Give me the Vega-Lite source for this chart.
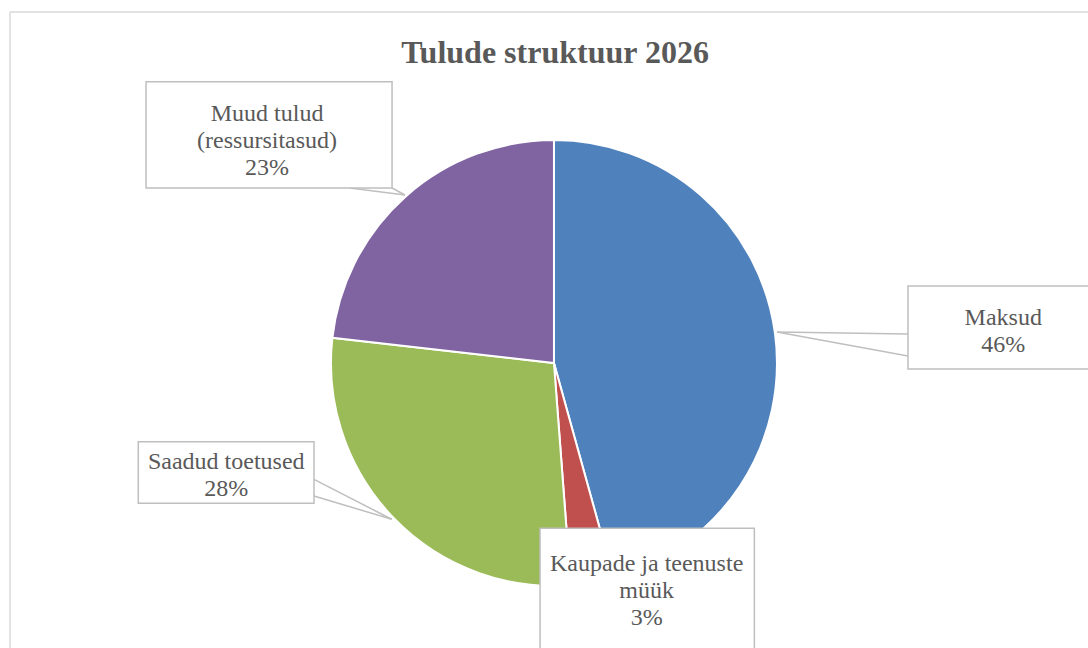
{
  "$schema": "https://vega.github.io/schema/vega-lite/v6.json",
  "width": 1078,
  "height": 636,
  "autosize": "none",
  "padding": {"left": 10, "top": 12, "right": 0, "bottom": 0},
  "background": "#FFFFFF",
  "data": {
    "values": [
      {"i": 1, "category": "Maksud", "share": 45.7, "label": "Maksud\n46%"},
      {"i": 2, "category": "Kaupade ja teenuste müük", "share": 3.1, "label": "Kaupade ja teenuste\nmüük\n3%"},
      {"i": 3, "category": "Saadud toetused", "share": 28.0, "label": "Saadud toetused\n28%"},
      {"i": 4, "category": "Muud tulud (ressursitasud)", "share": 23.2, "label": "Muud tulud\n(ressursitasud)\n23%"}
    ]
  },
  "layer": [
    {
      "data": {"values": [{}]},
      "mark": {"type": "rule", "color": "#D9D9D9", "strokeWidth": 1.5},
      "encoding": {
        "x": {"datum": 0, "type": "quantitative", "scale": {"domain": [0, 100], "nice": false, "zero": false}},
        "x2": {"datum": 100},
        "y": {"datum": 0, "type": "quantitative", "scale": {"domain": [0, 100], "nice": false, "zero": false, "reverse": true}}
      }
    },
    {
      "data": {"values": [{}]},
      "mark": {"type": "rule", "color": "#D9D9D9", "strokeWidth": 1.5},
      "encoding": {
        "x": {"datum": 0, "type": "quantitative"},
        "y": {"datum": 0, "type": "quantitative"},
        "y2": {"datum": 100}
      }
    },
    {
      "data": {"values": [{"title": "Tulude struktuur 2026"}]},
      "mark": {"type": "text", "font": "Liberation Serif", "fontSize": 32, "fontWeight": "bold", "color": "#595959", "align": "center", "baseline": "alphabetic"},
      "encoding": {
        "text": {"field": "title", "type": "nominal"},
        "x": {"datum": 50.56, "type": "quantitative"},
        "y": {"datum": 8.02, "type": "quantitative"}
      }
    },
    {
      "mark": {"type": "arc", "radius": 223, "stroke": "#FFFFFF", "strokeWidth": 2},
      "encoding": {
        "theta": {"field": "share", "type": "quantitative", "stack": true},
        "order": {"field": "i", "type": "quantitative"},
        "color": {
          "field": "category",
          "type": "nominal",
          "scale": {
            "domain": ["Maksud", "Kaupade ja teenuste müük", "Saadud toetused", "Muud tulud (ressursitasud)"],
            "range": ["#4F81BD", "#C0504D", "#9BBB59", "#8064A2"]
          },
          "legend": null
        },
        "x": {"datum": 50.46, "type": "quantitative"},
        "y": {"datum": 55.19, "type": "quantitative"}
      }
    },
    {
      "data": {"values": [{}]},
      "mark": {"type": "rule", "color": "#BFBFBF", "strokeWidth": 1.5},
      "encoding": {
        "x": {"datum": 71.15, "type": "quantitative"},
        "y": {"datum": 50.31, "type": "quantitative"},
        "x2": {"datum": 83.3},
        "y2": {"datum": 50.63}
      }
    },
    {
      "data": {"values": [{}]},
      "mark": {"type": "rule", "color": "#BFBFBF", "strokeWidth": 1.5},
      "encoding": {
        "x": {"datum": 71.15, "type": "quantitative"},
        "y": {"datum": 50.31, "type": "quantitative"},
        "x2": {"datum": 83.3},
        "y2": {"datum": 54.09}
      }
    },
    {
      "data": {"values": [{}]},
      "mark": {"type": "rule", "color": "#BFBFBF", "strokeWidth": 1.5},
      "encoding": {
        "x": {"datum": 35.41, "type": "quantitative"},
        "y": {"datum": 79.76, "type": "quantitative"},
        "x2": {"datum": 28.2},
        "y2": {"datum": 73.48}
      }
    },
    {
      "data": {"values": [{}]},
      "mark": {"type": "rule", "color": "#BFBFBF", "strokeWidth": 1.5},
      "encoding": {
        "x": {"datum": 35.41, "type": "quantitative"},
        "y": {"datum": 79.76, "type": "quantitative"},
        "x2": {"datum": 28.2},
        "y2": {"datum": 76.1}
      }
    },
    {
      "data": {"values": [{}]},
      "mark": {"type": "rule", "color": "#BFBFBF", "strokeWidth": 1.5},
      "encoding": {
        "x": {"datum": 36.64, "type": "quantitative"},
        "y": {"datum": 28.77, "type": "quantitative"},
        "x2": {"datum": 31.54},
        "y2": {"datum": 27.67}
      }
    },
    {
      "data": {"values": [{}]},
      "mark": {"type": "rule", "color": "#BFBFBF", "strokeWidth": 1.5},
      "encoding": {
        "x": {"datum": 36.64, "type": "quantitative"},
        "y": {"datum": 28.77, "type": "quantitative"},
        "x2": {"datum": 35.44},
        "y2": {"datum": 27.67}
      }
    },
    {
      "data": {"values": [{}]},
      "mark": {"type": "rect", "fill": "#FFFFFF", "stroke": "#BFBFBF", "strokeWidth": 1.5},
      "encoding": {
        "x": {"datum": 83.3, "type": "quantitative"},
        "x2": {"datum": 102},
        "y": {"datum": 43.08, "type": "quantitative"},
        "y2": {"datum": 56.13}
      }
    },
    {
      "data": {"values": [{}]},
      "mark": {"type": "rect", "fill": "#FFFFFF", "stroke": "#BFBFBF", "strokeWidth": 1.5},
      "encoding": {
        "x": {"datum": 12.62, "type": "quantitative"},
        "x2": {"datum": 35.44},
        "y": {"datum": 10.96, "type": "quantitative"},
        "y2": {"datum": 27.67}
      }
    },
    {
      "data": {"values": [{}]},
      "mark": {"type": "rect", "fill": "#FFFFFF", "stroke": "#BFBFBF", "strokeWidth": 1.5},
      "encoding": {
        "x": {"datum": 11.9, "type": "quantitative"},
        "x2": {"datum": 28.2},
        "y": {"datum": 67.56, "type": "quantitative"},
        "y2": {"datum": 77.25}
      }
    },
    {
      "data": {"values": [{}]},
      "mark": {"type": "rect", "fill": "#FFFFFF", "stroke": "#BFBFBF", "strokeWidth": 1.5},
      "encoding": {
        "x": {"datum": 49.17, "type": "quantitative"},
        "x2": {"datum": 69.05},
        "y": {"datum": 81.18, "type": "quantitative"},
        "y2": {"datum": 105}
      }
    },
    {
      "transform": [{"filter": {"field": "category", "equal": "Maksud"}}],
      "mark": {"type": "text", "font": "Liberation Serif", "fontSize": 24, "color": "#595959", "align": "center", "baseline": "alphabetic", "lineBreak": "\n", "lineHeight": 27},
      "encoding": {
        "text": {"field": "label", "type": "nominal"},
        "x": {"datum": 92.14, "type": "quantitative"},
        "y": {"datum": 49.14, "type": "quantitative"}
      }
    },
    {
      "transform": [{"filter": {"field": "category", "equal": "Muud tulud (ressursitasud)"}}],
      "mark": {"type": "text", "font": "Liberation Serif", "fontSize": 24, "color": "#595959", "align": "center", "baseline": "alphabetic", "lineBreak": "\n", "lineHeight": 27},
      "encoding": {
        "text": {"field": "label", "type": "nominal"},
        "x": {"datum": 23.85, "type": "quantitative"},
        "y": {"datum": 17.06, "type": "quantitative"}
      }
    },
    {
      "transform": [{"filter": {"field": "category", "equal": "Saadud toetused"}}],
      "mark": {"type": "text", "font": "Liberation Serif", "fontSize": 24, "color": "#595959", "align": "center", "baseline": "alphabetic", "lineBreak": "\n", "lineHeight": 27},
      "encoding": {
        "text": {"field": "label", "type": "nominal"},
        "x": {"datum": 20.06, "type": "quantitative"},
        "y": {"datum": 71.78, "type": "quantitative"}
      }
    },
    {
      "transform": [{"filter": {"field": "category", "equal": "Kaupade ja teenuste müük"}}],
      "mark": {"type": "text", "font": "Liberation Serif", "fontSize": 24, "color": "#595959", "align": "center", "baseline": "alphabetic", "lineBreak": "\n", "lineHeight": 27},
      "encoding": {
        "text": {"field": "label", "type": "nominal"},
        "x": {"datum": 59.06, "type": "quantitative"},
        "y": {"datum": 87.97, "type": "quantitative"}
      }
    }
  ],
  "config": {
    "view": {"stroke": null},
    "axis": {"disable": true}
  }
}
